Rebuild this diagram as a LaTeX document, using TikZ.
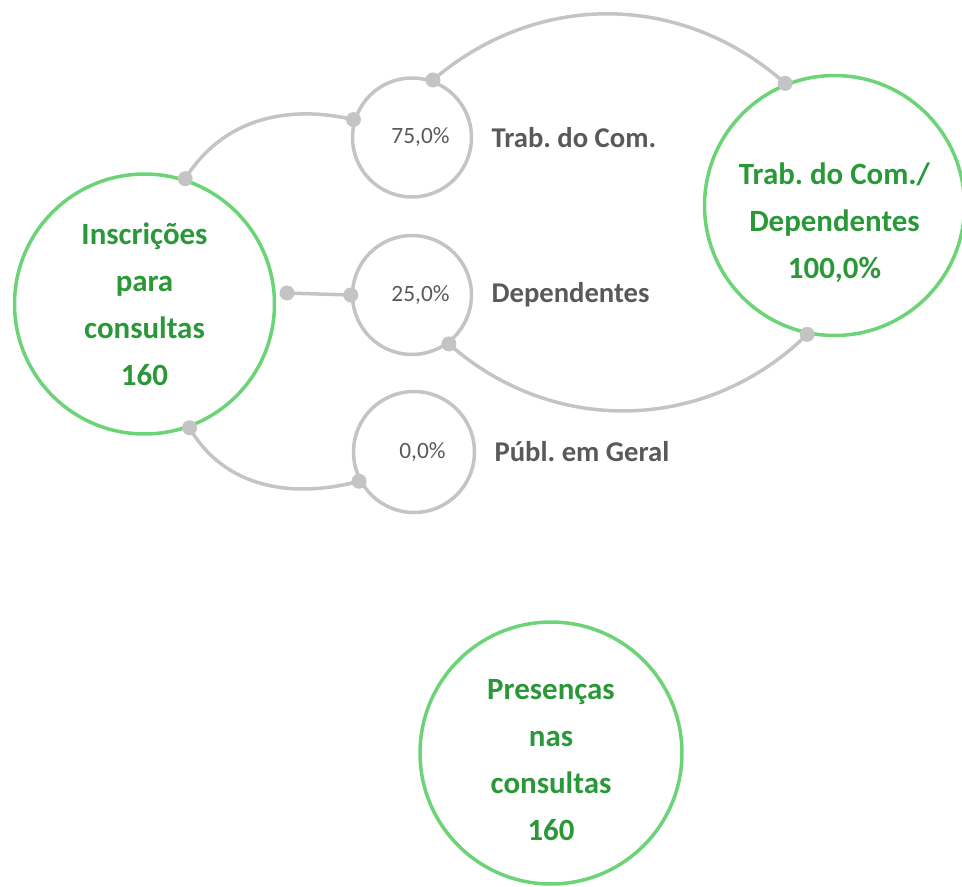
\documentclass[tikz,border=0pt]{standalone}
\usepackage{fontspec}
\setmainfont{Carlito}
\usepackage{tikz}
\usetikzlibrary{positioning}
\frenchspacing

\definecolor{grnline}{RGB}{108,212,118}
\definecolor{grntext}{RGB}{42,152,56}
\definecolor{lgray}{RGB}{196,196,196}
\definecolor{dgray}{RGB}{89,89,89}

\begin{document}
\begin{tikzpicture}[
  x=0.02cm, y=-0.02cm,
  bigc/.style={circle,draw=grnline,line width=2pt,minimum size=5.2cm,align=center,text=grntext,
    font=\fontsize{17.6}{26.7}\selectfont\bfseries},
  bigtxt/.style={align=center,text=grntext,font=\fontsize{17.6}{26.7}\selectfont\bfseries},
  pct/.style={circle,draw=lgray,line width=2pt,minimum size=2.38cm,text=dgray,
    font=\fontsize{13.3}{16}\selectfont,execute at begin node=\hspace*{0.34cm}},
  lbl/.style={inner sep=0pt,text=dgray,font=\fontsize{16.3}{20}\selectfont\bfseries},
  link/.style={draw=lgray,line width=2pt},
  knob/.style={fill=lgray},
]
\useasboundingbox (0,0) rectangle (962,886);

% circles
\node[bigc] (insc) at (144.5,304) {Inscrições\\para\\consultas\\160};
\node[bigc,label={[bigtxt,yshift=-0.35cm]center:Trab. do Com./\\Dependentes\\100,0\%}] (tcd) at (834.5,205.5) {};
\node[bigc,minimum size=5.24cm,label={[bigtxt,yshift=-0.14cm]center:Presenças\\nas\\consultas\\160}] (pres) at (551,753) {};

\node[pct] (p75) at (412,137.5) {75,0\%};
\node[pct] (p25) at (412,295) {25,0\%};
\node[pct,minimum size=2.42cm] (p0) at (414,452) {0,0\%};

\node[lbl,right=0.36cm of p75] (l75) {Trab. do Com.};
\node[lbl,right=0.36cm of p25] (l25) {Dependentes};
\node[lbl,right=0.36cm of p0] (l0) {Públ. em Geral};

\coordinate (inscR) at (287,293);

% links
\draw[link] (insc.72) to[out=58,in=167] (p75.163);
\draw[link] (inscR) -- (p25.west);
\draw[link] (insc.-70) to[out=-60,in=195] (p0.208);
\draw[link] (p75.70) to[bend left=41] (tcd.112);
\draw[link] (p25.-53) to[bend right=43] (tcd.-102);

\foreach \p in {insc.72,p75.163,inscR,p25.west,insc.-70,p0.208,p75.70,tcd.112,p25.-53,tcd.-102}
  \fill[knob] (\p) circle (0.15cm);
\end{tikzpicture}
\end{document}
